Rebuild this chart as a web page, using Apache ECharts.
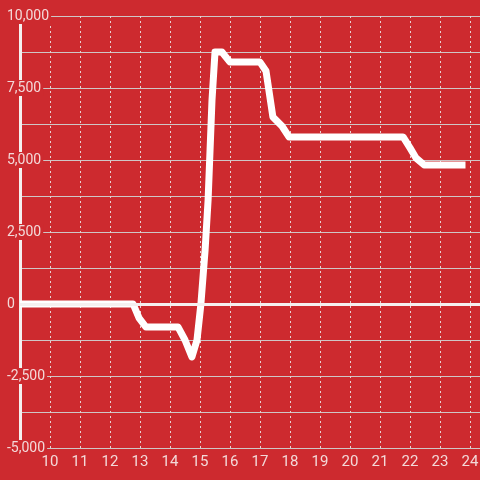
<!DOCTYPE html>
<html>
<head>
<meta charset="utf-8">
<script src="https://cdn.jsdelivr.net/npm/echarts@6/dist/echarts.min.js"></script>
<style>
html,body{margin:0;padding:0;background:#cd2a2f;}
#c{width:480px;height:480px;}
</style>
</head>
<body>
<div id="c"></div>
<script>
var hours = [9, 12.77, 12.97, 13.2, 14.27, 14.5, 14.73, 14.9, 15.03, 15.17, 15.27, 15.4, 15.5, 15.73, 16.0, 17.0, 17.2, 17.43, 17.73, 17.97, 21.77, 22.0, 22.2, 22.47, 23.85];
var values = [0, 0, -490, -800, -800, -1250, -1840, -1250, 0, 1875, 3610, 7080, 8750, 8750, 8400, 8400, 8090, 6490, 6180, 5800, 5800, 5420, 5070, 4830, 4830];
var yTicks = [-5000, -2500, 0, 2500, 5000, 7500, 10000];

var RED = '#cd2a2f';
var TXT = '#f3d9d9';
var chart = echarts.init(document.getElementById('c'));
var data = hours.map(function (h, i) { return [h, values[i]]; });
chart.setOption({
  backgroundColor: RED,
  animation: false,
  grid: { left: 20, right: 0, top: 16, bottom: 32, containLabel: false, outerBoundsMode: 'none' },
  xAxis: {
    type: 'value', min: 9, max: 9 + 460 / 30, interval: 1,
    axisLine: { show: false }, axisTick: { show: false },
    axisLabel: { color: TXT, fontSize: 15, fontFamily: 'Roboto', margin: 7, showMinLabel: false, showMaxLabel: false },
    splitLine: { show: true, lineStyle: { color: '#e6d2d2', type: [2, 3], width: 1 } }
  },
  yAxis: {
    type: 'value', min: -5000, max: 10000, interval: 1250,
    axisLine: { show: true, lineStyle: { color: '#f5f0f0', width: 3 } },
    axisTick: { show: false },
    axisLabel: {
      color: TXT, fontSize: 14, fontFamily: 'Roboto', align: 'left', margin: 14,
      backgroundColor: RED, padding: [1, 2, 1, 1],
      formatter: function (v) { return yTicks.indexOf(v) >= 0 ? v.toLocaleString('en-US') : ''; }
    },
    splitLine: { show: true, lineStyle: { color: '#cfc6c6', width: 1 } }
  },
  series: [{
    type: 'line', data: data, symbol: 'none',
    lineStyle: { color: '#ffffff', width: 7, join: 'round' },
    markLine: {
      silent: true, symbol: 'none', label: { show: false },
      lineStyle: { color: '#f5f0f0', width: 3, type: 'solid' },
      data: [{ yAxis: 0 }]
    },
    z: 3
  }]
});
</script>
</body>
</html>
